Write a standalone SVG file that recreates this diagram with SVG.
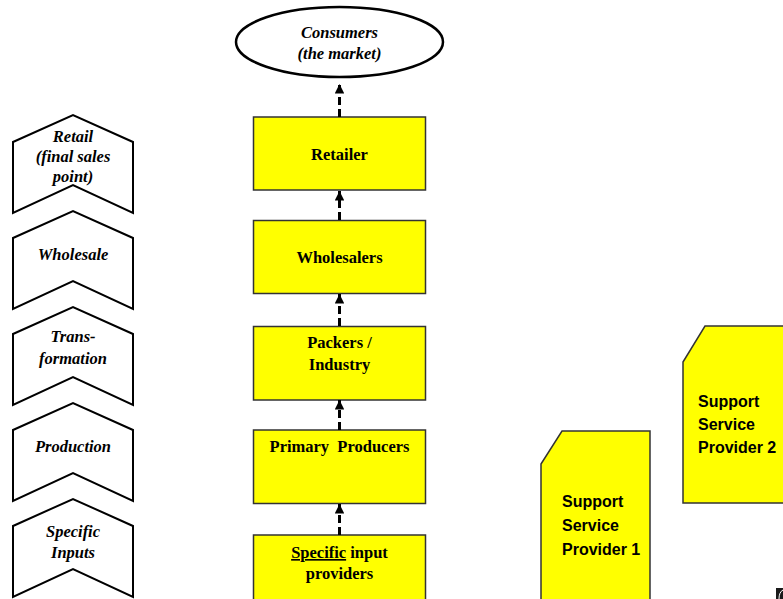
<svg xmlns="http://www.w3.org/2000/svg" width="783" height="599" viewBox="0 0 783 599">
  <style>
    .chev { fill: #ffffff; stroke: #000000; stroke-width: 2; stroke-linejoin: miter; }
    .box { fill: #ffff00; stroke: #333333; stroke-width: 1.5; }
    .sup { fill: #ffff00; stroke: #333333; stroke-width: 1.5; }
    .stage { font-family: "Liberation Serif", "Times New Roman", serif; font-weight: bold; font-style: italic; font-size: 16.5px; fill: #000; text-anchor: middle; }
    .actor { font-family: "Liberation Serif", "Times New Roman", serif; font-weight: bold; font-size: 16.5px; fill: #000; text-anchor: middle; }
    .svc { font-family: "Liberation Sans", Arial, sans-serif; font-weight: bold; font-size: 16px; fill: #000; }
    .flow { stroke: #000000; stroke-width: 3; stroke-dasharray: 8 4; fill: none; }
  </style>
  <defs>
    <marker id="head" viewBox="0 0 10 10" refX="10" refY="5" markerWidth="3.2" markerHeight="3.2" orient="auto" markerUnits="strokeWidth">
      <path d="M0,0 L10,5 L0,10 Z" fill="#000"/>
    </marker>
  </defs>

  <!-- value chain stages (left column) -->
  <g id="stage-retail">
    <polygon class="chev" points="13,142 73,115 133,142 133,213 73,185 13,213"/>
    <text class="stage" x="73" y="142">Retail</text>
    <text class="stage" x="73" y="162">(final sales</text>
    <text class="stage" x="73" y="182">point)</text>
  </g>
  <g id="stage-wholesale">
    <polygon class="chev" points="13,238 73,211 133,238 133,309 73,281 13,309"/>
    <text class="stage" x="73" y="260">Wholesale</text>
  </g>
  <g id="stage-transformation">
    <polygon class="chev" points="13,334 73,307 133,334 133,405 73,377 13,405"/>
    <text class="stage" x="73" y="342">Trans-</text>
    <text class="stage" x="73" y="364">formation</text>
  </g>
  <g id="stage-production">
    <polygon class="chev" points="13,430 73,403 133,430 133,501 73,473 13,501"/>
    <text class="stage" x="73" y="452">Production</text>
  </g>
  <g id="stage-inputs">
    <polygon class="chev" points="13,526 73,499 133,526 133,597 73,569 13,597"/>
    <text class="stage" x="73" y="537">Specific</text>
    <text class="stage" x="73" y="558">Inputs</text>
  </g>

  <!-- market -->
  <g id="consumers">
    <ellipse cx="339.5" cy="42" rx="103.5" ry="35" fill="#ffffff" stroke="#000000" stroke-width="2.5"/>
    <text class="stage" x="339.5" y="38">Consumers</text>
    <text class="stage" x="339.5" y="59">(the market)</text>
  </g>

  <!-- chain actors (centre column) -->
  <g id="retailer">
    <rect class="box" x="253.5" y="117" width="172" height="73"/>
    <text class="actor" x="339.5" y="160">Retailer</text>
  </g>
  <g id="wholesalers">
    <rect class="box" x="253.5" y="220.5" width="172" height="73"/>
    <text class="actor" x="339.5" y="263">Wholesalers</text>
  </g>
  <g id="packers">
    <rect class="box" x="253.5" y="326.5" width="172" height="73.5"/>
    <text class="actor" x="339.5" y="348">Packers /</text>
    <text class="actor" x="339.5" y="370">Industry</text>
  </g>
  <g id="producers">
    <rect class="box" x="253.5" y="430" width="172" height="73.5"/>
    <text class="actor" x="339.5" y="452" xml:space="preserve">Primary  Producers</text>
  </g>
  <g id="input-providers">
    <rect class="box" x="253.5" y="535" width="172" height="80"/>
    <text class="actor" x="339.5" y="558"><tspan text-decoration="underline">Specific</tspan> input</text>
    <text class="actor" x="339.5" y="579">providers</text>
  </g>

  <!-- support services -->
  <g id="support-1">
    <polygon class="sup" points="541,464 562,431 650,431 650,615 541,615"/>
    <text class="svc" x="562" y="507">Support</text>
    <text class="svc" x="562" y="531">Service</text>
    <text class="svc" x="562" y="555">Provider 1</text>
  </g>
  <g id="support-2">
    <polygon class="sup" points="683,362 705,326 795,326 795,503 683,503"/>
    <text class="svc" x="698" y="407">Support</text>
    <text class="svc" x="698" y="430">Service</text>
    <text class="svc" x="698" y="453">Provider 2</text>
  </g>

  <!-- product flow -->
  <g id="connectors">
    <line class="flow" x1="339.5" y1="117" x2="339.5" y2="84" marker-end="url(#head)"/>
    <line class="flow" x1="339.5" y1="220" x2="339.5" y2="191" marker-end="url(#head)"/>
    <line class="flow" x1="339.5" y1="326" x2="339.5" y2="294" marker-end="url(#head)"/>
    <line class="flow" x1="339.5" y1="430" x2="339.5" y2="400" marker-end="url(#head)"/>
    <line class="flow" x1="339.5" y1="535" x2="339.5" y2="504" marker-end="url(#head)"/>
  </g>

  <!-- corner badge -->
  <g id="badge">
    <rect x="776" y="588" width="10" height="14" fill="#1a1a1a"/>
    <path d="M779,599 Q779,592 783,590" fill="none" stroke="#ffffff" stroke-width="1"/>
  </g>
</svg>
